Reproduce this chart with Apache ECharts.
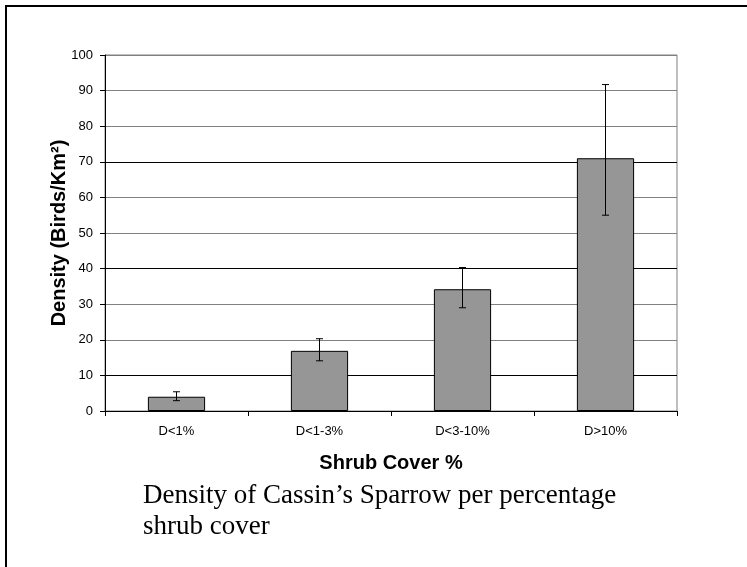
<!DOCTYPE html>
<html>
<head>
<meta charset="utf-8">
<script src="https://cdn.jsdelivr.net/npm/echarts@6/dist/echarts.min.js"></script>
<style>
html,body{margin:0;padding:0;background:#fff;}
#chart{width:747px;height:567px;}
</style>
</head>
<body>
<div id="chart"></div>
<script>
const categories = ['D<1%', 'D<1-3%', 'D<3-10%', 'D>10%'];
const density = [4.0, 16.9, 34.2, 71.0];
const errLow = [2.9, 14.1, 29.0, 55.0];
const errHigh = [5.4, 20.3, 40.3, 91.7];
const yTicks = [0, 10, 20, 30, 40, 50, 60, 70, 80, 90, 100];

const chart = echarts.init(document.getElementById('chart'), null, {renderer: 'canvas'});
const errData = categories.map((c, i) => [i, errLow[i], errHigh[i]]);

chart.setOption({
  animation: false,
  backgroundColor: '#fff',
  graphic: [{
    type: 'rect',
    shape: {x: 6, y: 6, width: 780, height: 600},
    style: {fill: 'none', stroke: '#000', lineWidth: 2},
    silent: true
  }],
  title: {
    text: 'Density of Cassin\u2019s Sparrow per percentage\nshrub cover',
    left: 138,
    top: 475,
    textStyle: {fontFamily: 'Liberation Serif', fontSize: 27, fontWeight: 'normal', color: '#000', lineHeight: 31}
  },
  grid: {left: 105, right: 70, top: 55, bottom: 156, show: true, borderColor: '#808080', borderWidth: 1},
  xAxis: {
    type: 'category',
    data: categories,
    name: 'Shrub Cover %',
    nameLocation: 'middle',
    nameGap: 42,
    nameMoveOverlap: false,
    nameTextStyle: {fontFamily: 'Arial, Liberation Sans', fontSize: 20, fontWeight: 'bold', color: '#000'},
    axisLine: {lineStyle: {color: '#000', width: 1}},
    axisTick: {show: true, length: 5, lineStyle: {color: '#000'}},
    axisLabel: {fontFamily: 'Arial, Liberation Sans', fontSize: 13, color: '#000', margin: 14}
  },
  yAxis: {
    type: 'value',
    min: yTicks[0],
    max: yTicks[yTicks.length - 1],
    interval: 10,
    name: 'Density (Birds/Km\u00b2)',
    nameLocation: 'middle',
    nameGap: 36,
    nameRotate: 90,
    nameMoveOverlap: false,
    nameTextStyle: {fontFamily: 'Arial, Liberation Sans', fontSize: 20, fontWeight: 'bold', color: '#000'},
    axisLine: {show: true, lineStyle: {color: '#000', width: 1}},
    axisTick: {show: true, length: 5, lineStyle: {color: '#000'}},
    axisLabel: {fontFamily: 'Arial, Liberation Sans', fontSize: 13, color: '#000', margin: 12},
    splitLine: {show: true, lineStyle: {color: ['#808080', '#000', '#808080', '#808080', '#000', '#808080', '#808080', '#000', '#808080', '#808080', '#808080'], width: 1}}
  },
  series: [{
    type: 'bar',
    data: density,
    barWidth: '40%',
    itemStyle: {color: '#969696', borderColor: '#000', borderWidth: 1}
  }, {
    type: 'custom',
    data: errData,
    z: 10,
    renderItem: function (params, api) {
      const x = api.value(0);
      const lo = api.coord([x, api.value(1)]);
      const hi = api.coord([x, api.value(2)]);
      const cap = 3.5;
      const st = {stroke: '#000', lineWidth: 1};
      return {
        type: 'group',
        children: [
          {type: 'line', shape: {x1: hi[0], y1: hi[1], x2: lo[0], y2: lo[1]}, style: st},
          {type: 'line', shape: {x1: hi[0] - cap, y1: hi[1], x2: hi[0] + cap, y2: hi[1]}, style: st},
          {type: 'line', shape: {x1: lo[0] - cap, y1: lo[1], x2: lo[0] + cap, y2: lo[1]}, style: st}
        ]
      };
    }
  }]
});
</script>
</body>
</html>
